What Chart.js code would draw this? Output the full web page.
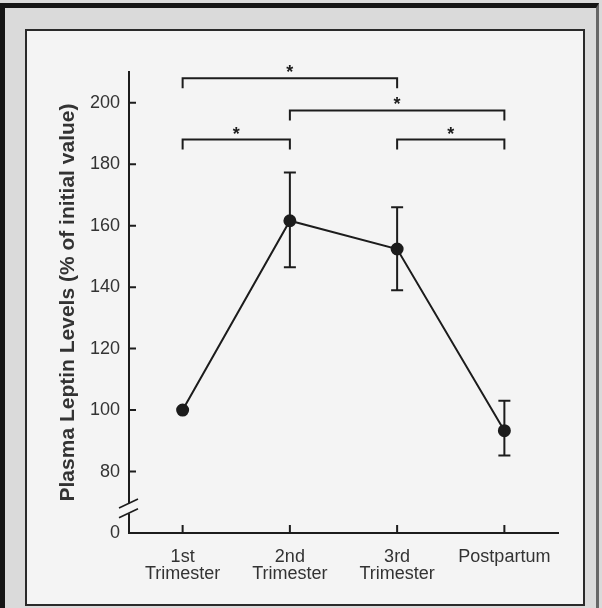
<!DOCTYPE html>
<html>
<head>
<meta charset="utf-8">
<title>Plasma leptin levels</title>
<script src="https://cdn.jsdelivr.net/npm/chart.js@4.4.1/dist/chart.umd.min.js"></script>
<style>
    body { margin: 0; background: #fff; }
    #page { position: relative; width: 602px; height: 608px; background: #dadada; overflow: hidden; }
    #outer { position: absolute; left: 0; top: 3px; width: 599px; height: 620px; box-sizing: border-box;
             border-left: 5px solid #151515; border-top: 5px solid #151515; border-right: 3px solid #666; }
    #inner { position: absolute; left: 25px; top: 29px; width: 560px; height: 577px; box-sizing: border-box;
             border: 2px solid #2a2a2a; background: #f4f4f4; }
    #leptin { position: absolute; left: 0; top: 0; }
</style>
</head>
<body>
<div id="page">
    <div id="outer"></div>
    <div id="inner"></div>
    <canvas id="leptin" width="602" height="608"></canvas>
</div>
<script>
// Kadar leptin plasma (% dari nilai awal)
const categories = [["1st", "Trimester"], ["2nd", "Trimester"], ["3rd", "Trimester"], "Postpartum"];
const leptinMean = [100, 161.6, 152.4, 93.3];
const errorHigh = [null, 177.3, 166, 103];
const errorLow = [null, 146.5, 139, 85.2];

// sumbu y terputus: nilai 60 digambar sebagai "0"
const tickValues = [60, 80, 100, 120, 140, 160, 180, 200];
const tickLabels = ["0", "80", "100", "120", "140", "160", "180", "200"];

// tanda signifikansi (pasangan kategori, tinggi garis dalam unit y)
const bracketPairs = [[0, 2], [1, 3], [0, 1], [2, 3]];
const bracketLevels = [208, 197.5, 188, 188];
const bracketMarks = ["*", "*", "*", "*"];

const ink = "#1c1c1c";
const textInk = "#333";
const paper = "#f4f4f4";

// error bar, tick ke dalam, tanda putus dan bracket
const decorations = {
    id: "decorations",
    afterDraw(chart) {
        const { ctx, scales: { x, y } } = chart;
        ctx.save();
        ctx.strokeStyle = ink;
        ctx.lineWidth = 2;

        // error bars
        leptinMean.forEach((v, i) => {
            if (errorHigh[i] == null) return;
            const px = x.getPixelForValue(i);
            const top = y.getPixelForValue(errorHigh[i]);
            const bot = y.getPixelForValue(errorLow[i]);
            ctx.beginPath();
            ctx.moveTo(px, top); ctx.lineTo(px, bot);
            ctx.moveTo(px - 6, top); ctx.lineTo(px + 6, top);
            ctx.moveTo(px - 6, bot); ctx.lineTo(px + 6, bot);
            ctx.stroke();
        });

        // inner ticks
        ctx.beginPath();
        tickValues.forEach(v => {
            if (v === tickValues[0]) return;
            const py = y.getPixelForValue(v);
            ctx.moveTo(x.left, py); ctx.lineTo(x.left + 7, py);
        });
        categories.forEach((c, i) => {
            const px = x.getPixelForValue(i);
            ctx.moveTo(px, y.bottom); ctx.lineTo(px, y.bottom - 8);
        });
        ctx.stroke();

        // axis break
        const b1 = y.getPixelForValue(69.6);
        const b2 = y.getPixelForValue(66.4);
        ctx.fillStyle = paper;
        ctx.fillRect(x.left - 3, b1, 6, b2 - b1);
        ctx.lineWidth = 1.6;
        ctx.beginPath();
        [b1, b2].forEach(py => {
            ctx.moveTo(x.left - 10, py + 4.5);
            ctx.lineTo(x.left + 9, py - 4.5);
        });
        ctx.stroke();

        // brackets
        ctx.lineWidth = 2;
        ctx.fillStyle = ink;
        ctx.font = "bold 18px 'Liberation Sans', Arial, sans-serif";
        ctx.textAlign = "center";
        ctx.textBaseline = "alphabetic";
        bracketPairs.forEach(([a, b], i) => {
            const x1 = x.getPixelForValue(a);
            const x2 = x.getPixelForValue(b);
            const py = y.getPixelForValue(bracketLevels[i]);
            ctx.beginPath();
            ctx.moveTo(x1, py + 10); ctx.lineTo(x1, py);
            ctx.lineTo(x2, py); ctx.lineTo(x2, py + 10);
            ctx.stroke();
            ctx.fillText(bracketMarks[i], (x1 + x2) / 2, py);
        });
        ctx.restore();
    },
};

const config = {
    type: "line",
    data: {
        labels: categories,
        datasets: [
            {
                label: "Plasma leptin",
                data: leptinMean,
                borderColor: ink,
                borderWidth: 2,
                pointRadius: 5.5,
                pointBackgroundColor: ink,
                pointBorderColor: ink,
                tension: 0,
            },
        ],
    },
    options: {
        responsive: false,
        animation: false,
        layout: { padding: { left: 46, top: 72, right: 44, bottom: 0 } },
        plugins: {
            legend: { display: false },
            tooltip: { enabled: false },
        },
        scales: {
            x: {
                offset: true,
                grid: { display: false, drawTicks: false },
                border: { display: true, color: ink, width: 2 },
                ticks: {
                    color: textInk,
                    padding: 15,
                    maxRotation: 0,
                    font: { family: "'Liberation Sans', Arial, sans-serif", size: 18, lineHeight: 0.95 },
                },
                afterFit(scale) { scale.height = 75; },
            },
            y: {
                min: 60,
                max: 210,
                grid: { display: false, drawTicks: false },
                border: { display: true, color: ink, width: 2 },
                afterBuildTicks(scale) { scale.ticks = tickValues.map(v => ({ value: v })); },
                afterFit(scale) { scale.width = 83; },
                ticks: {
                    color: textInk,
                    padding: 9,
                    font: { family: "'Liberation Sans', Arial, sans-serif", size: 18 },
                    callback: (v) => tickLabels[tickValues.indexOf(v)],
                },
                title: {
                    display: true,
                    text: "Plasma Leptin Levels (% of initial value)",
                    color: textInk,
                    padding: { top: 10, bottom: 0 },
                    font: { family: "'Liberation Sans', Arial, sans-serif", size: 21, weight: "bold" },
                },
            },
        },
    },
    plugins: [decorations],
};

// Buat grafik
new Chart(document.getElementById("leptin"), config);
</script>
</body>
</html>
